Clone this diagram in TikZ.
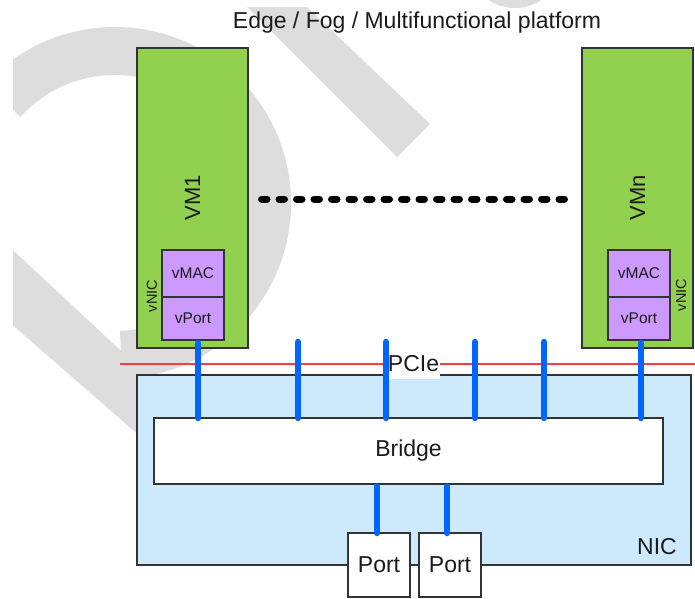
\documentclass[tikz,border=0pt]{standalone}
\usepackage{fontspec}
\setmainfont{Liberation Sans}
\usetikzlibrary{calc}

\definecolor{vmgreen}{HTML}{92D050}
\definecolor{vpurple}{HTML}{CC99FF}
\definecolor{nicblue}{HTML}{CCEAFC}
\definecolor{linkblue}{HTML}{0066FF}
\definecolor{pcired}{HTML}{FF3B3B}
\definecolor{markgrey}{HTML}{DDDDDD}
\definecolor{ink}{HTML}{1A1A1A}

\begin{document}
\begin{tikzpicture}[x=1pt,y=-1pt,
  outline/.style={draw=black!80, line width=1.3pt, inner sep=0pt, outer sep=0pt, text=ink},
  vmbox/.style={outline, fill=vmgreen, minimum width=111pt, minimum height=300pt,
    font=\fontsize{22}{26}\selectfont},
  macbox/.style={outline, fill=vpurple, minimum width=62pt, minimum height=47pt,
    font=\fontsize{15.5}{18}\selectfont},
  vportbox/.style={outline, fill=vpurple, minimum width=62pt, minimum height=43pt,
    font=\fontsize{15.5}{18}\selectfont},
  portbox/.style={outline, fill=white, minimum width=62pt, minimum height=64pt,
    font=\fontsize{23}{27}\selectfont},
  biglabel/.style={text=ink, inner sep=0pt, font=\fontsize{23}{27}\selectfont},
  vniclabel/.style={text=ink, inner sep=0pt, rotate=90, font=\fontsize{14.5}{17}\selectfont},
  link/.style={draw=linkblue, line width=6.5pt, line cap=round},
  pcieline/.style={draw=pcired, line width=1.4pt},
  ellipsis/.style={draw=black, line width=7pt, line cap=round, dash pattern=on 5.5pt off 12pt}
]
\useasboundingbox (0,0) rectangle (695,598);

% faint background mark: ring and two slanted bands
\begin{scope}
  \clip (13,0) rectangle (695,598);
  \begin{scope}
    \clip (115,203) -- (-293,-169) -- (-293,-400) -- (900,-400) -- (900,900) -- (143,907) -- cycle;
    \draw[markgrey, line width=48pt] (115,203) circle (152);
  \end{scope}
  \fill[markgrey] (247,7) -- (307,7) -- (430,124) -- (397,157) -- cycle;
  \fill[markgrey] (0,238) -- (180,406) -- (150,445) -- (0,314) -- cycle;
  \fill[markgrey] (515,-40) circle (48);
\end{scope}

% title
\node[biglabel, anchor=base] (title) at (417,28) {Edge / Fog / Multifunctional platform};

% PCIe boundary
\coordinate (pcL) at (120,364);
\coordinate (pcR) at (695,364);
\draw[pcieline] (pcL) -- (pcR);

% NIC and bridge
\node[outline, fill=nicblue, minimum width=554pt, minimum height=190pt] (nic) at (414,470) {};
\node[biglabel, anchor=base] (niclbl) at (657,554) {NIC};
\node[outline, fill=white, minimum width=509pt, minimum height=66pt,
      font=\fontsize{23}{27}\selectfont] (bridge) at (408.5,451) {Bridge};
\node[fill=white, text=ink, inner xsep=1pt, inner ysep=0pt, text depth=7pt,
      font=\fontsize{23}{27}\selectfont, anchor=base] (pcie) at (413.5,371.7) {PCIe};

% virtual machines
\node[vmbox] (vm1) at (192.5,198) {\rotatebox{90}{VM1}};
\node[vmbox] (vmn) at (637.5,198) {\rotatebox{90}{VMn}};
\node[macbox] (vmac1) at (193,273.5) {vMAC};
\node[vportbox] (vport1) at (193,318.5) {vPort};
\node[macbox] (vmacn) at (639,273.5) {vMAC};
\node[vportbox] (vportn) at (639,318.5) {vPort};
\node[vniclabel] (vnic1) at (152,296) {vNIC};
\node[vniclabel] (vnicn) at (681,295) {vNIC};

% more VMs in between
\coordinate (dotL) at (261.5,199);
\coordinate (dotR) at (564.5,199);
\draw[ellipsis] (dotL) -- (dotR);

% PCIe links into the bridge
\coordinate (l1) at (198,343);
\coordinate (l2) at (298,342);
\coordinate (l3) at (386,342);
\coordinate (l4) at (475,342);
\coordinate (l5) at (544,342);
\coordinate (l6) at (641,343);
\foreach \c in {l1,l2,l3,l4,l5,l6}
  \draw[link] (\c) -- (\c |- bridge.north);

% physical ports
\coordinate (p1) at (377,486.5);
\coordinate (p2) at (447,486.5);
\node[portbox] (port1) at (379,565) {Port};
\node[portbox] (port2) at (450,565) {Port};
\draw[link] (p1) -- (p1 |- port1.north);
\draw[link] (p2) -- (p2 |- port2.north);
\end{tikzpicture}
\end{document}
